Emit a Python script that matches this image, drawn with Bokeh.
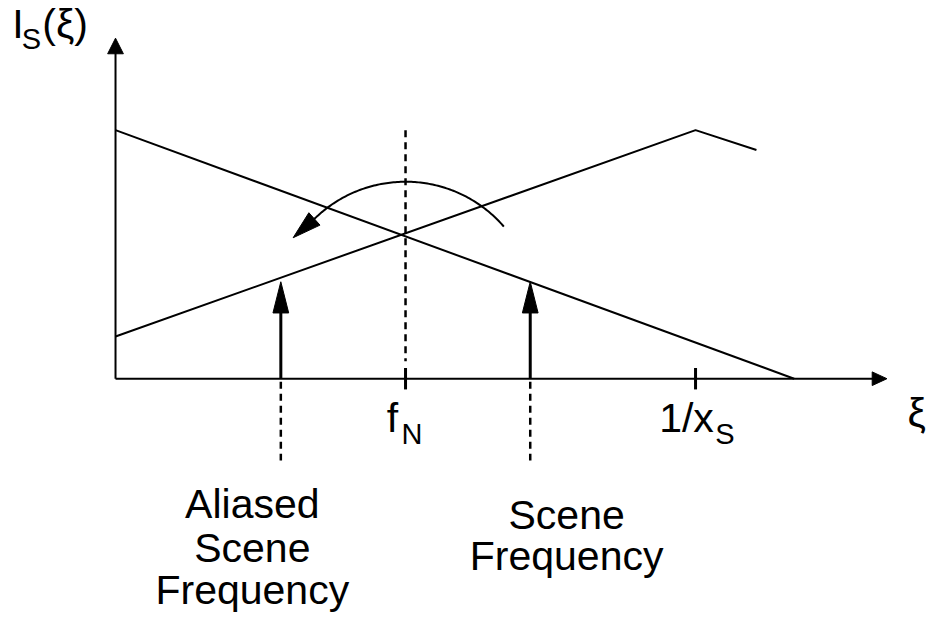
import numpy as np
from bokeh.plotting import figure
from bokeh.models import Range1d
from bokeh.core.properties import value
from bokeh.embed import file_html
from bokeh.resources import INLINE

# ---------------- data (xi in units of f_N, intensity relative) ----------------
scene_x = [0.0, 2.34]            # scene spectrum (falling line)
scene_y = [1.0, 0.0]
alias_x = [0.0, 2.0, 2.21]       # aliased spectrum (rising, folded at 1/x_S)
alias_y = [0.17, 1.0, 0.92]
tick_pos = [1.0, 2.0]            # f_N, 1/x_S
tick_main = ["f", "1/x"]
tick_sub = ["N", "S"]
marker_x = [0.57, 1.43]          # aliased scene frequency, scene frequency
marker_y = [0.39, 0.39]
aliased_label = ["Aliased", "Scene", "Frequency"]
scene_label = ["Scene", "Frequency"]
x_axis_end = 2.66
y_axis_end = 1.37
nyq_top = 1.0
fold_center_y = 0.276

# ---------------- layout constants ----------------
SX, SY = 295.0, 255.0            # reference pixels per data unit
OX, OY = 117.0, 388.0            # origin in reference pixels
REF_W, REF_H = 946, 634
W, H = 930, 618
FONT = value("Liberation Sans")
BIG, SMALL = 41.0, 29.0          # font sizes (px)
BASE_FIX = 0.37                  # baseline correction, in em

def px_x(X):
    return (X - OX) / SX

def px_y(Y):
    return (OY - Y) / SY

p = figure(width=W, height=H, output_backend="svg", toolbar_location=None,
           x_range=Range1d(px_x(0), px_x(REF_W)), y_range=Range1d(px_y(REF_H), px_y(0)),
           x_axis_type=None, y_axis_type=None, min_border=0)
p.grid.visible = False
p.outline_line_color = None
p.background_fill_color = "white"
p.border_fill_color = "white"


def head(tx, ty, ux, uy, length, halfw):
    """triangle head with tip (tx,ty) in data, direction (ux,uy) in pixel space (y up)."""
    n = np.hypot(ux, uy)
    ux, uy = ux / n, uy / n
    bx, by = -ux * length, -uy * length
    px, py = -uy * halfw, ux * halfw
    xs = [tx, tx + (bx + px) / SX, tx + (bx - px) / SX]
    ys = [ty, ty + (by + py) / SY, ty + (by - py) / SY]
    return xs, ys

heads_x, heads_y = [], []

# axes
p.line([0, x_axis_end - 14 / SX], [0, 0], line_color="black", line_width=2)
p.line([0, 0], [0, y_axis_end - 14 / SY], line_color="black", line_width=2)
hx, hy = head(x_axis_end, 0, 1, 0, 15, 7)
heads_x.append(hx); heads_y.append(hy)
hx, hy = head(0, y_axis_end, 0, 1, 16, 8)
heads_x.append(hx); heads_y.append(hy)

# ticks
p.segment(x0=tick_pos, y0=[-11 / SY] * 2, x1=tick_pos, y1=[11 / SY] * 2,
          line_color="black", line_width=3)

# spectra
p.line(scene_x, scene_y, line_color="black", line_width=2)
p.line(alias_x, alias_y, line_color="black", line_width=2)

# Nyquist dashed line
p.line([tick_pos[0], tick_pos[0]], [nyq_top, 18 / SY], line_color="black",
       line_width=2.5, line_dash="7 5")

# frequency markers (arrows) and dotted leaders below axis
p.segment(x0=marker_x, y0=[0, 0], x1=marker_x, y1=[v - 28 / SY for v in marker_y],
          line_color="black", line_width=3)
for mx, my in zip(marker_x, marker_y):
    hx, hy = head(mx, my, 0, 1, 32, 8)
    heads_x.append(hx); heads_y.append(hy)
p.segment(x0=marker_x, y0=[-3 / SY] * 2, x1=marker_x, y1=[-84 / SY] * 2,
          line_color="black", line_width=2.5, line_dash="7 5")

# folding arc around f_N
R = 131.7
th = np.radians(np.linspace(40.6, 135.0, 120))
arc_x = tick_pos[0] + R * np.cos(th) / SX
arc_y = fold_center_y + R * np.sin(th) / SY
p.line(arc_x, arc_y, line_color="black", line_width=2)
b = np.radians(135.0)
t = np.radians(147.0)
bxp, byp = R * np.cos(b), R * np.sin(b)
txp, typ = 1.035 * R * np.cos(t), 1.035 * R * np.sin(t)
hx, hy = head(tick_pos[0] + txp / SX, fold_center_y + typ / SY, txp - bxp, typ - byp, 29, 8.5)
heads_x.append(hx); heads_y.append(hy)

p.patches(heads_x, heads_y, fill_color="black", line_color="black", line_width=1)

# ---------------- texts ----------------
def txt(x, y, s, size=BIG, align="left"):
    # baseline correction: raise by BASE_FIX em (canvas px -> reference px -> data)
    shift = BASE_FIX * size * (REF_H / H) / SY
    p.text(x=[x], y=[y + shift], text=[s], text_font=FONT, text_font_size=f"{size}px",
           text_color="black", text_align=align, text_baseline="alphabetic")

# y-axis label I_S(xi)
txt(px_x(12), px_y(40), "I")
txt(px_x(21.5), px_y(50), "S", SMALL)
txt(px_x(42.5), px_y(40), "(ξ)")

# x-axis label
txt(x_axis_end + 21 / SX, px_y(439), "ξ")

# tick labels
main_dx = [-19, -37]
sub_dx = [-4, 20]
for pos, m, s, mdx, sdx in zip(tick_pos, tick_main, tick_sub, main_dx, sub_dx):
    txt(pos + mdx / SX, -56 / SY, m)
    txt(pos + sdx / SX, -68 / SY, s, SMALL)

# marker labels
for line, off in zip(aliased_label, [144, 189, 232]):
    txt(marker_x[0] - 29 / SX, -off / SY, line, align="center")
for line, off in zip(scene_label, [155, 197]):
    txt(marker_x[1] + 37 / SX, -off / SY, line, align="center")

open("out.html", "w").write(file_html(p, INLINE))
